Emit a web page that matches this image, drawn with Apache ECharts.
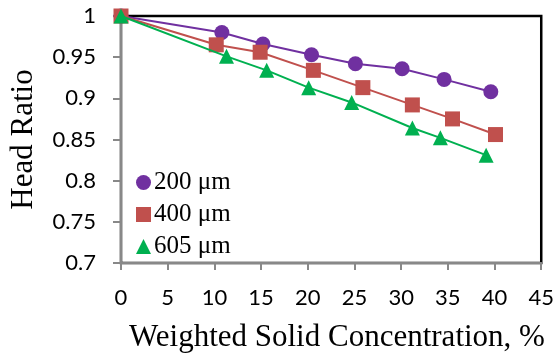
<!DOCTYPE html>
<html><head><meta charset="utf-8">
<script src="https://cdn.jsdelivr.net/npm/echarts@6/dist/echarts.min.js"></script>
<style>html,body{margin:0;padding:0;background:#fff}#c{width:557px;height:363px}</style>
</head><body><div id="c"></div>
<script>
const seriesNames = ['200 μm', '400 μm', '605 μm'];
const x200 = [0, 10.8, 15.2, 20.4, 25.1, 30.1, 34.6, 39.6];
const y200 = [1, 0.980, 0.966, 0.953, 0.942, 0.936, 0.923, 0.908];
const x400 = [0, 10.2, 14.9, 20.6, 25.9, 31.2, 35.5, 40.1];
const y400 = [1, 0.965, 0.956, 0.934, 0.913, 0.892, 0.875, 0.856];
const x605 = [0, 11.3, 15.6, 20.1, 24.7, 31.2, 34.2, 39.1];
const y605 = [1, 0.951, 0.934, 0.913, 0.895, 0.864, 0.852, 0.831];
const xTitle = 'Weighted Solid Concentration, %';
const yTitle = 'Head Ratio';

const pairs = (xs, ys) => xs.map((x, i) => [x, ys[i]]);
const colors = ['#7030A0', '#C0504D', '#00B050'];
const symbols = ['circle', 'rect', 'triangle'];
const data = [pairs(x200, y200), pairs(x400, y400), pairs(x605, y605)];

const chart = echarts.init(document.getElementById('c'));
chart.setOption({
  animation: false,
  color: colors,
  grid: { left: 118.5, right: 15, top: 16, bottom: 100, show: true, borderColor: '#000', borderWidth: 2.5, containLabel: false },
  xAxis: {
    type: 'value', min: 0, max: 45, interval: 5,
    axisLine: { show: true, lineStyle: { color: '#888', width: 2 } },
    axisTick: { show: true, length: 7, lineStyle: { color: '#888', width: 2 } },
    splitLine: { show: false },
    axisLabel: { color: '#000', fontFamily: 'Lato', fontSize: 22, margin: 24 }
  },
  yAxis: {
    type: 'value', min: 0.7, max: 1, interval: 0.05,
    name: yTitle, nameLocation: 'middle', nameGap: 82,
    nameTextStyle: { color: '#000', fontFamily: 'Liberation Serif', fontSize: 31 },
    axisLine: { show: true, lineStyle: { color: '#888', width: 2 } },
    axisTick: { show: true, length: 8, lineStyle: { color: '#888', width: 2 } },
    splitLine: { show: false },
    axisLabel: { color: '#000', fontFamily: 'Lato', fontSize: 22, margin: 25 }
  },
  legend: {
    orient: 'vertical', left: 131, top: 165,
    itemWidth: 15, itemHeight: 15, itemGap: 7,
    textStyle: { color: '#000', fontFamily: 'Liberation Serif', fontSize: 25, padding: [0,0,0,-2] },
    data: seriesNames.map((n, i) => ({ name: n, icon: symbols[i] }))
  },
  graphic: [{
    type: 'text', left: 129, top: 322,
    style: { text: xTitle, fill: '#000', font: '31px "Liberation Serif"' }
  }],
  series: seriesNames.map((n, i) => ({
    name: n, type: 'line', data: data[i],
    symbol: symbols[i], symbolSize: 15,
    lineStyle: { width: 2, color: colors[i] },
    itemStyle: { color: colors[i] },
    clip: false, z: 3 + i
  }))
});
</script></body></html>
